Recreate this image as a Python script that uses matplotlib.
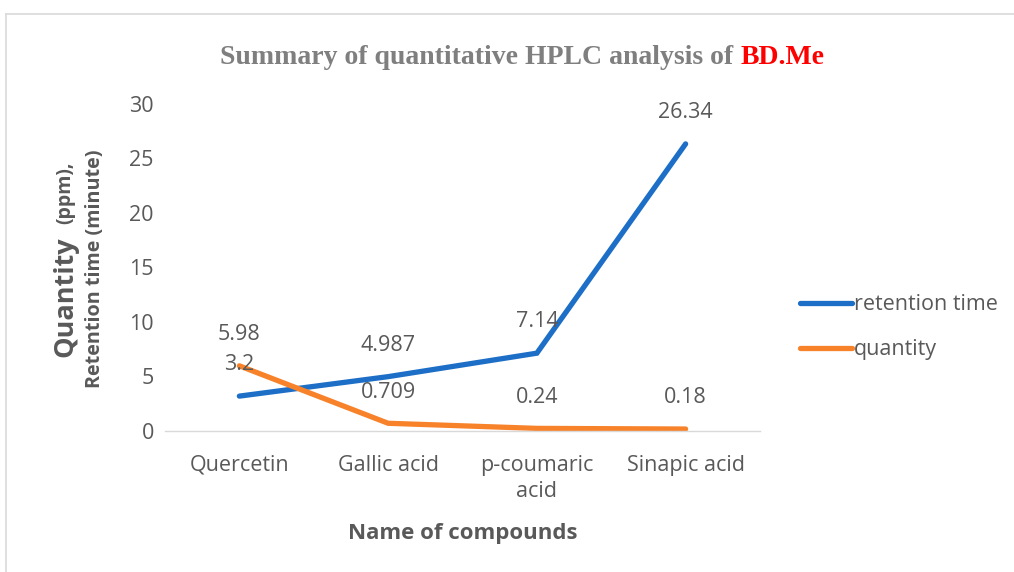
import numpy as np
import matplotlib.pyplot as plt

compounds = ['Quercetin', 'Gallic acid', 'p-coumaric\nacid', 'Sinapic acid']
retention_time = [3.2, 4.987, 7.14, 26.34]
quantity = [5.98, 0.709, 0.24, 0.18]
rt_labels = ['3.2', '4.987', '7.14', '26.34']
qty_labels = ['5.98', '0.709', '0.24', '0.18']

plt.rcParams['font.family'] = ['Open Sans', 'DejaVu Sans']
grey = '#595959'
blue = '#1C6EC6'
orange = '#F7822A'

fig = plt.figure(figsize=(10.14, 5.72), dpi=100)
ax = fig.add_axes([0.1627, 0.2465, 0.5868, 0.5717])

x = np.arange(len(compounds))
ax.plot(x, retention_time, color=blue, linewidth=3.8, solid_capstyle='round',
        solid_joinstyle='miter', label='retention time')
ax.plot(x, quantity, color=orange, linewidth=3.8, solid_capstyle='round',
        solid_joinstyle='miter', label='quantity')

# data labels above points
for xi, v, t in zip(x, retention_time, rt_labels):
    ax.annotate(t, (xi, v), xytext=(0, 22.5), textcoords='offset points',
                ha='center', va='center', fontsize=15.5, color=grey)
for xi, v, t in zip(x, quantity, qty_labels):
    ax.annotate(t, (xi, v), xytext=(0, 22.5), textcoords='offset points',
                ha='center', va='center', fontsize=15.5, color=grey)

ax.set_xlim(-0.5, 3.5)
ax.set_ylim(0, 30)
ax.set_yticks([0, 5, 10, 15, 20, 25, 30])
ax.set_xticks(x)
ax.set_xticklabels(compounds, linespacing=1.35)
ax.tick_params(axis='both', length=0, labelsize=15.5, colors=grey)
ax.tick_params(axis='y', pad=8)
ax.tick_params(axis='x', pad=17)
for s in ['top', 'right', 'left']:
    ax.spines[s].set_visible(False)
ax.spines['bottom'].set_color('#D9D9D9')
ax.spines['bottom'].set_linewidth(1)

# axis titles
fig.text(0.456, 0.068, 'Name of compounds', ha='center', va='center',
         fontsize=16, fontweight='bold', color=grey)
fig.text(0.064, 0.376, 'Quantity', ha='center', va='bottom', rotation=90,
         fontsize=19.5, fontweight='bold', color=grey)
fig.text(0.0645, 0.608, '(ppm),', ha='center', va='bottom', rotation=90,
         fontsize=14, fontweight='bold', color=grey)
fig.text(0.094, 0.531, 'Retention time (minute)', ha='center', va='center',
         rotation=90, fontsize=14.2, fontweight='bold', color=grey)

# title in two colours
fig.text(0.73, 0.900, 'Summary of quantitative HPLC analysis of ', ha='right',
         va='center', fontsize=20, fontweight='bold', color='#7F7F7F',
         family='Liberation Serif')
fig.text(0.73, 0.900, 'BD.Me', ha='left', va='center', fontsize=20,
         fontweight='bold', color='#FF0000', family='Liberation Serif')

fig.legend(loc='center left', bbox_to_anchor=(0.770, 0.428), frameon=False,
           fontsize=15.5, handlelength=2.4, handletextpad=0.1,
           labelspacing=1.12, labelcolor=grey)

# light frame on the top and left edges
fig.add_artist(plt.Line2D([0.006, 0.006], [0, 0.976], color='#D9D9D9', lw=1.2))
fig.add_artist(plt.Line2D([0.006, 1.0], [0.976, 0.976], color='#D9D9D9', lw=1.2))

fig.savefig('out.png', dpi=100)
